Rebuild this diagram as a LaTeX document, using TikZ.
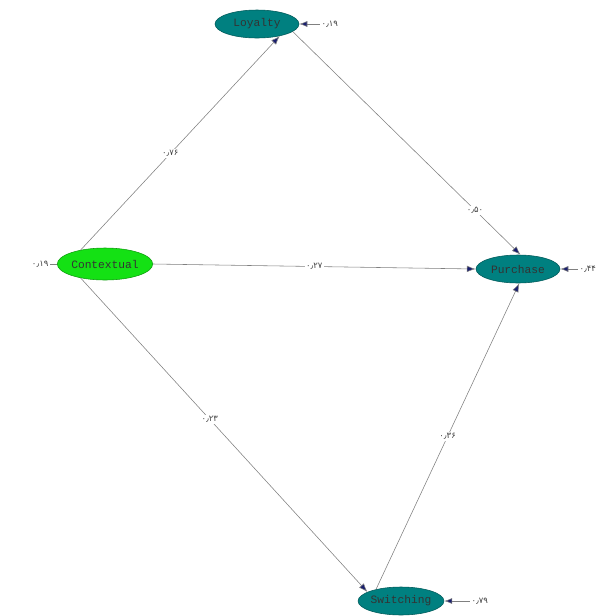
\documentclass[tikz,border=0pt]{standalone}
\usepackage{fontspec}
\setmonofont{Liberation Mono}
\newfontfamily\fadigits{DejaVu Sans}
\usetikzlibrary{shapes.geometric, arrows.meta, positioning}

\definecolor{latent}{RGB}{0,128,128}
\definecolor{exogen}{RGB}{20,225,20}
\definecolor{tipblue}{RGB}{25,30,110}

\begin{document}
\begin{tikzpicture}[
        var/.style={ellipse, draw=latent!70!black, fill=latent, minimum width=2.1cm, minimum height=0.7cm, inner sep=0pt, font=\ttfamily\footnotesize, text=black!80},
        coef/.style={font=\fadigits\fontsize{6}{7}\selectfont, text=black!75, fill=white, inner sep=1pt},
        path/.style={-{Latex[length=2.2mm, width=1.6mm, fill=tipblue]}, draw=gray, thin},
        err/.style={-{Latex[length=2mm, width=1.5mm, fill=tipblue]}, draw=gray, thin}
    ]
        \useasboundingbox (0,0) rectangle (15.075,-15.4);
        % latent variables
        \node[var] (loy) at (6.425,-0.6) {Loyalty};
        \node[var, fill=exogen, draw=exogen!70!black, minimum width=2.35cm, minimum height=0.8cm] (con) at (2.625,-6.6) {Contextual};
        \node[var] (pur) at (12.95,-6.725) {Purchase};
        \node[var] (swi) at (10.025,-15.025) {Switching};
        % structural paths
        \draw[path] (con.150) -- node[coef, pos=0.45] {۰٫۷۶} (loy.-28);
        \draw[path] (loy.-12) -- node[coef, pos=0.8] {۰٫۵۰} (pur.80);
        \draw[path] (con.east) -- node[coef, pos=0.5] {۰٫۲۷} (pur.west);
        \draw[path] (con.-150) -- node[coef, pos=0.45] {۰٫۲۳} (swi.165);
        \draw[path] (swi.155) -- node[coef, pos=0.5] {۰٫۳۶} (pur.-85);
        % error terms
        \coordinate (eloy) at (8.0,-0.6);
        \coordinate (econ) at (1.25,-6.6);
        \coordinate (epur) at (14.45,-6.725);
        \coordinate (eswi) at (11.75,-15.025);
        \draw[err] (eloy) -- (loy.east);
        \draw[draw=gray, thin] (econ) -- (con.west);
        \draw[err] (epur) -- (pur.east);
        \draw[err] (eswi) -- (swi.east);
        \node[coef, anchor=west] (tloy) at (eloy) {۰٫۱۹};
        \node[coef, anchor=east] (tcon) at (econ) {۰٫۱۹};
        \node[coef, anchor=west] (tpur) at (epur) {۰٫۴۴};
        \node[coef, anchor=west] (tswi) at (eswi) {۰٫۷۹};
    \end{tikzpicture}
\end{document}
